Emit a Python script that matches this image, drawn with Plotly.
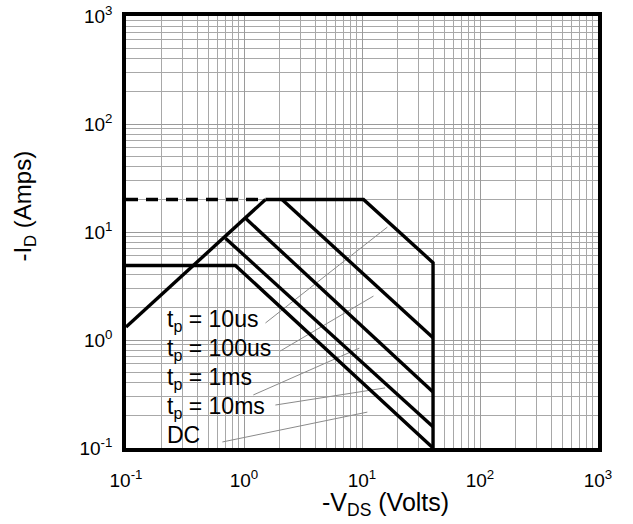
import math
import plotly.graph_objects as go

# ---------------- data ----------------
# R_DS(on) limit line
rds_v = [0.1, 1.52]
rds_i = [1.32, 20.0]
# package current limit (dashed part)
pkg_v = [0.1, 1.52]
pkg_i = [20.0, 20.0]
# pulse curves
tp10us_v = [1.52, 10.3, 40.0, 40.0]
tp10us_i = [20.0, 20.0, 5.2, 0.1]
tp100us_v = [2.1, 40.0]
tp100us_i = [20.0, 1.05]
tp1ms_v = [1.03, 40.0]
tp1ms_i = [13.4, 0.33]
tp10ms_v = [0.696, 40.0]
tp10ms_i = [8.75, 0.157]
dc_v = [0.1, 0.845, 40.0]
dc_i = [4.9, 4.9, 0.1]

# labels and their leader lines (tail near text -> head near curve)
labels = ["t<sub>p</sub> = 10us", "t<sub>p</sub> = 100us", "t<sub>p</sub> = 1ms",
          "t<sub>p</sub> = 10ms", "DC"]
leader_v0 = [1.52, 2.03, 1.20, 1.845, 0.656]
leader_i0 = [1.437, 0.791, 0.310, 0.250, 0.1137]
leader_v1 = [16.4, 12.5, 9.5, 15.7, 11.1]
leader_i1 = [11.1, 2.55, 0.84, 0.36, 0.215]
label_y_paper = [0.294, 0.227, 0.160, 0.093, 0.030]

tick_vals = [0.1, 1, 10, 100, 1000]
tick_text = ["10<sup>-1</sup>", "10<sup>0</sup>", "10<sup>1</sup>", "10<sup>2</sup>", "10<sup>3</sup>"]
minor_vals = [m * 10 ** e for e in range(-1, 3) for m in range(2, 10)]

FONT = "Liberation Sans, Arial, Helvetica, sans-serif"
LW = 3.4

fig = go.Figure()

def line(x, y, dash=None, width=LW, color="black"):
    fig.add_trace(go.Scatter(x=x, y=y, mode="lines", showlegend=False, hoverinfo="skip",
                             line=dict(color=color, width=width, dash=dash)))

# leader lines
for v0, i0, v1, i1 in zip(leader_v0, leader_i0, leader_v1, leader_i1):
    line([v0, v1], [i0, i1], width=1, color="#8a8a8a")

line(pkg_v, pkg_i, dash="12px,8px")
line(rds_v, rds_i)
line(tp10us_v, tp10us_i)
line(tp100us_v, tp100us_i)
line(tp1ms_v, tp1ms_i)
line(tp10ms_v, tp10ms_i)
line(dc_v, dc_i)

# white panel behind the labels (hides the grid)
fig.add_shape(type="rect", xref="paper", yref="paper", x0=0.043, x1=0.335, y0=0.004, y1=0.326,
              fillcolor="white", line=dict(width=0), layer="between")

for txt, yp in zip(labels, label_y_paper):
    fig.add_annotation(text=txt, xref="paper", yref="paper", x=0.0826, y=yp,
                       xanchor="left", yanchor="middle", showarrow=False,
                       font=dict(family=FONT, size=23, color="black"))

# axis titles
fig.add_annotation(text="-V<sub>DS</sub> (Volts)", xref="paper", yref="paper", x=0.55, y=-0.13,
                   xanchor="center", yanchor="middle", showarrow=False,
                   font=dict(family=FONT, size=25, color="black"))
fig.add_annotation(text="-I<sub>D</sub> (Amps)", xref="paper", yref="paper", x=-0.215, y=0.56,
                   xanchor="center", yanchor="middle", showarrow=False, textangle=-90,
                   font=dict(family=FONT, size=24, color="black"))

axis_common = dict(type="log", tickmode="array", tickvals=tick_vals, ticktext=tick_text,
                   showgrid=True, gridcolor="#9a9a9a", gridwidth=1,
                   minor=dict(tickmode="array", tickvals=minor_vals, showgrid=True,
                              gridcolor="#a8a8a8", gridwidth=1, ticks=""),
                   showline=True, linecolor="black", linewidth=3.5, mirror=True,
                   ticks="", zeroline=False, automargin=False, ticklabeloverflow="allow",
                   tickfont=dict(family=FONT, size=19, color="black"))

fig.update_xaxes(range=[-1, 3], ticklabelstandoff=12, **axis_common)
fig.update_yaxes(range=[-1, 3], ticklabelstandoff=6, **axis_common)

fig.update_layout(width=633, height=524, margin=dict(l=126, r=35, t=16, b=76),
                  plot_bgcolor="white", paper_bgcolor="white",
                  font=dict(family=FONT, color="black"))

# remove the browser's default 8px page margin so the figure fills the window exactly
fig.write_html("out.html", config={"displayModeBar": False},
               post_script="document.body.style.margin='0';")
